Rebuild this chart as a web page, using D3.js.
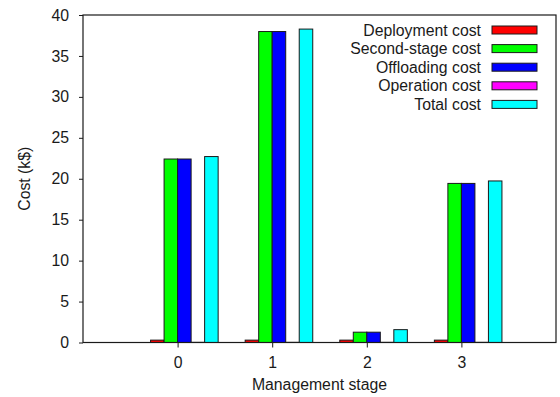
<!DOCTYPE html>
<html>
<head>
<meta charset="utf-8">
<script src="https://cdn.jsdelivr.net/npm/d3@7"></script>
<style>
  html, body { margin: 0; padding: 0; background: #fff; }
  svg { display: block; font-family: "Liberation Sans", Arial, Helvetica, sans-serif; }
</style>
</head>
<body>
<svg id="chart" width="560" height="397"></svg>
<script>
// Management stages on the x axis
const stages = [0, 1, 2, 3];

// Cost components per stage (k$)
const deploymentCost  = [0.29, 0.29, 0.29, 0.29];
const secondStageCost = [22.41, 37.98, 1.26, 19.43];
const offloadingCost  = [22.41, 37.98, 1.26, 19.43];
const operationCost   = [0.02, 0.02, 0.02, 0.02];
const totalCost       = [22.71, 38.28, 1.57, 19.73];

const seriesNames  = ["Deployment cost", "Second-stage cost", "Offloading cost", "Operation cost", "Total cost"];
const seriesColors = ["#ff0000", "#00ff00", "#0000ff", "#ff00ff", "#00ffff"];
const seriesValues = [deploymentCost, secondStageCost, offloadingCost, operationCost, totalCost];

const yTicks = [0, 5, 10, 15, 20, 25, 30, 35, 40];

const plot = { left: 83, top: 15, right: 556, bottom: 342.5 };
const fontSize = 15.8;
const textColor = "#1a1a1a";

const svg = d3.select("#chart");

const x = d3.scaleLinear().domain([-1, 4]).range([plot.left, plot.right]);
const y = d3.scaleLinear().domain([0, 40]).range([plot.bottom, plot.top]);

// five bars plus a two-bar gap per stage
const barW = (x(1) - x(0)) / 7;

// bars
const bars = svg.append("g");
seriesValues.forEach((vals, si) => {
  bars.selectAll(null)
    .data(stages.map((s, i) => ({ s, v: vals[i] })))
    .join("rect")
    .attr("x", d => x(d.s) + (si - 2) * barW)
    .attr("y", d => y(d.v))
    .attr("width", barW)
    .attr("height", d => y(0) - y(d.v))
    .attr("fill", seriesColors[si])
    .attr("stroke", "#1a1a1a")
    .attr("stroke-width", 1);
});

// y axis
const yAxis = svg.append("g")
  .attr("transform", `translate(${plot.left},0)`)
  .call(d3.axisLeft(y).tickValues(yTicks).tickSize(4).tickPadding(10).tickFormat(d3.format("d")));
yAxis.select(".domain").remove();
yAxis.selectAll("line").attr("stroke", "#1a1a1a");
yAxis.selectAll("text")
  .attr("font-size", fontSize)
  .attr("font-family", "Liberation Sans, Arial, sans-serif")
  .attr("fill", textColor);

// x axis
const xAxis = svg.append("g")
  .attr("transform", `translate(0,${plot.bottom})`)
  .call(d3.axisBottom(x).tickValues(stages).tickSize(5).tickPadding(9).tickFormat(d3.format("d")));
xAxis.select(".domain").remove();
xAxis.selectAll("line").attr("stroke", "#1a1a1a");
xAxis.selectAll("text")
  .attr("font-size", fontSize)
  .attr("font-family", "Liberation Sans, Arial, sans-serif")
  .attr("fill", textColor);

// plot frame
svg.append("rect")
  .attr("x", plot.left).attr("y", plot.top)
  .attr("width", plot.right - plot.left)
  .attr("height", plot.bottom - plot.top)
  .attr("fill", "none")
  .attr("stroke", "#1a1a1a")
  .attr("stroke-width", 1.2);

// axis titles
svg.append("text")
  .attr("x", (plot.left + plot.right) / 2)
  .attr("y", 390)
  .attr("text-anchor", "middle")
  .attr("font-size", fontSize)
  .attr("fill", textColor)
  .text("Management stage");

svg.append("text")
  .attr("transform", `translate(30,${(plot.top + plot.bottom) / 2}) rotate(-90)`)
  .attr("text-anchor", "middle")
  .attr("font-size", fontSize)
  .attr("fill", textColor)
  .text("Cost (k$)");

// legend
const legend = svg.append("g");
const rowY = i => 30 + i * 18.6;
seriesNames.forEach((name, i) => {
  legend.append("text")
    .attr("x", 481)
    .attr("y", rowY(i))
    .attr("dy", "0.36em")
    .attr("text-anchor", "end")
    .attr("font-size", fontSize)
    .attr("fill", textColor)
    .text(name);
  legend.append("rect")
    .attr("x", 492)
    .attr("y", rowY(i) - 4)
    .attr("width", 45)
    .attr("height", 8)
    .attr("fill", seriesColors[i])
    .attr("stroke", "#1a1a1a")
    .attr("stroke-width", 1);
});
</script>
</body>
</html>
